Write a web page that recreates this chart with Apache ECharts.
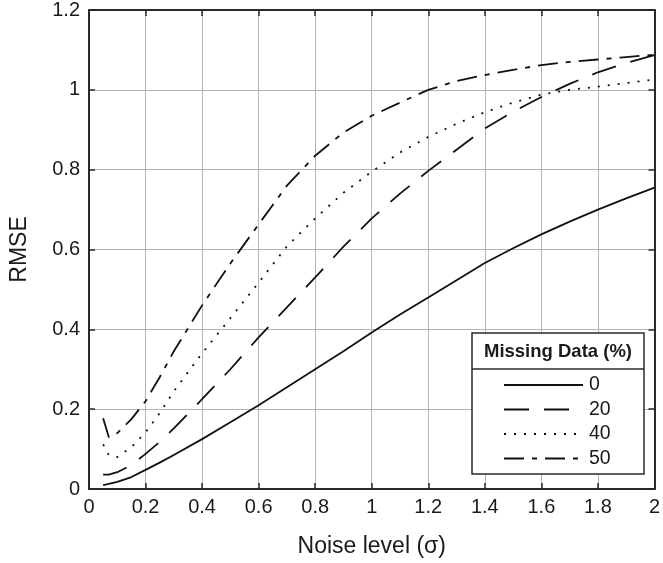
<!DOCTYPE html>
<html>
<head>
<meta charset="utf-8">
<script src="https://cdn.jsdelivr.net/npm/echarts@6/dist/echarts.min.js"></script>
<style>
html,body{margin:0;padding:0;background:#fff;}
#chart{width:663px;height:563px;}
</style>
</head>
<body>
<div id="chart"></div>
<script>
// Noise level (sigma)
var noise = [0.05, 0.07, 0.1, 0.15, 0.2, 0.25, 0.3, 0.4, 0.5, 0.6, 0.7, 0.8, 0.9, 1.0, 1.1, 1.2, 1.3, 1.4, 1.5, 1.6, 1.7, 1.8, 1.9, 2.0];
// RMSE for each missing-data percentage
var rmse0  = [0.010, 0.013, 0.018, 0.030, 0.048, 0.066, 0.085, 0.125, 0.167, 0.210, 0.255, 0.300, 0.345, 0.392, 0.437, 0.480, 0.523, 0.566, 0.603, 0.638, 0.670, 0.700, 0.728, 0.755];
var rmse20 = [0.036, 0.036, 0.042, 0.060, 0.088, 0.118, 0.152, 0.225, 0.300, 0.380, 0.455, 0.530, 0.607, 0.678, 0.740, 0.797, 0.850, 0.903, 0.945, 0.982, 1.015, 1.044, 1.067, 1.087];
var rmse40 = [0.112, 0.085, 0.080, 0.105, 0.142, 0.190, 0.245, 0.340, 0.428, 0.517, 0.608, 0.678, 0.742, 0.795, 0.843, 0.882, 0.915, 0.944, 0.968, 0.988, 1.000, 1.008, 1.017, 1.026];
var rmse50 = [0.177, 0.130, 0.140, 0.175, 0.220, 0.280, 0.345, 0.460, 0.565, 0.663, 0.760, 0.835, 0.893, 0.935, 0.968, 1.000, 1.022, 1.037, 1.050, 1.062, 1.070, 1.076, 1.082, 1.088];
var seriesNames = ['0', '20', '40', '50'];
var xTicks = ['0', '0.2', '0.4', '0.6', '0.8', '1', '1.2', '1.4', '1.6', '1.8', '2'];
var yTicks = ['0', '0.2', '0.4', '0.6', '0.8', '1', '1.2'];
var xTitle = 'Noise level (\u03c3)';
var yTitle = 'RMSE';
var legendTitle = 'Missing Data (%)';

function pairs(xs, ys) { return xs.map(function (x, i) { return [x, ys[i]]; }); }

var FONT = '"Liberation Sans", Arial, Helvetica, sans-serif';
var TXT = '#1a1a1a';
var AXIS = '#2a2a2a';
var GRIDC = '#b4b4b4';
var LW = 1.8;

var dashes = ['solid', [25, 15], [2, 8], [20, 8, 5, 8]];
var datas = [rmse0, rmse20, rmse40, rmse50];

var series = seriesNames.map(function (n, i) {
  return {
    name: n,
    type: 'line',
    data: pairs(noise, datas[i]),
    symbol: 'none',
    showSymbol: false,
    smooth: false,
    lineStyle: { color: '#111', width: LW, type: dashes[i], cap: 'butt', join: 'round' },
    itemStyle: { color: '#111' },
    z: 3
  };
});

var chart = echarts.init(document.getElementById('chart'), null, { renderer: 'canvas' });
chart.setOption({
  animation: false,
  backgroundColor: '#fff',
  grid: { left: 82, top: 10, right: 3, bottom: 70, containLabel: false },
  xAxis: [{
    type: 'value', position: 'bottom', min: 0, max: 2, interval: 0.2,
    name: xTitle, nameLocation: 'middle', nameGap: 46,
    nameTextStyle: { fontFamily: FONT, fontSize: 23, color: TXT },
    axisLine: { show: true, onZero: false, lineStyle: { color: AXIS, width: 2 } },
    axisTick: { show: true, inside: true, length: 6, lineStyle: { color: AXIS, width: 1.5 } },
    axisLabel: { fontFamily: FONT, fontSize: 20, color: TXT, margin: 8,
      formatter: function (v) { var i = Math.round(v / 0.2); return xTicks[i] !== undefined ? xTicks[i] : ''; } },
    splitLine: { show: true, lineStyle: { color: GRIDC, width: 1 } }
  }, {
    type: 'value', position: 'top', min: 0, max: 2, interval: 0.2,
    axisLine: { show: true, onZero: false, lineStyle: { color: AXIS, width: 2 } },
    axisTick: { show: true, inside: true, length: 6, lineStyle: { color: AXIS, width: 1.5 } },
    axisLabel: { show: false },
    splitLine: { show: false }
  }],
  yAxis: [{
    type: 'value', position: 'left', min: 0, max: 1.2, interval: 0.2,
    name: yTitle, nameLocation: 'middle', nameGap: 58, nameRotate: 90,
    nameTextStyle: { fontFamily: FONT, fontSize: 23, color: TXT },
    axisLine: { show: true, onZero: false, lineStyle: { color: AXIS, width: 2 } },
    axisTick: { show: true, inside: true, length: 6, lineStyle: { color: AXIS, width: 1.5 } },
    axisLabel: { fontFamily: FONT, fontSize: 20, color: TXT, margin: 9,
      formatter: function (v) { var i = Math.round(v / 0.2); return yTicks[i] !== undefined ? yTicks[i] : ''; } },
    splitLine: { show: true, lineStyle: { color: GRIDC, width: 1 } }
  }, {
    type: 'value', position: 'right', min: 0, max: 1.2, interval: 0.2,
    axisLine: { show: true, onZero: false, lineStyle: { color: AXIS, width: 2 } },
    axisTick: { show: true, inside: true, length: 6, lineStyle: { color: AXIS, width: 1.5 } },
    axisLabel: { show: false },
    splitLine: { show: false }
  }],
  legend: {
    show: true,
    orient: 'vertical',
    left: 503,
    top: 375,
    itemWidth: 79,
    itemHeight: 20,
    itemGap: 4.5,
    padding: 0,
    data: seriesNames,
    itemStyle: { opacity: 0 },
    textStyle: { fontFamily: FONT, fontSize: 19.5, color: TXT, lineHeight: 20, padding: [0, 0, 0, 1] },
    selectedMode: false,
    z: 6
  },
  graphic: [
    { type: 'rect', z: 5, shape: { x: 472, y: 333, width: 172, height: 141 },
      style: { fill: '#fff', stroke: AXIS, lineWidth: 1.5 } },
    { type: 'line', z: 5, shape: { x1: 472, y1: 369, x2: 644, y2: 369 },
      style: { stroke: AXIS, lineWidth: 1.5 } },
    { type: 'text', z: 6, x: 558, y: 352,
      style: { text: legendTitle, fontFamily: FONT, fontSize: 18.5, fontWeight: 'bold', fill: TXT,
        textAlign: 'center', textVerticalAlign: 'middle' } }
  ],
  series: series
});
</script>
</body>
</html>
